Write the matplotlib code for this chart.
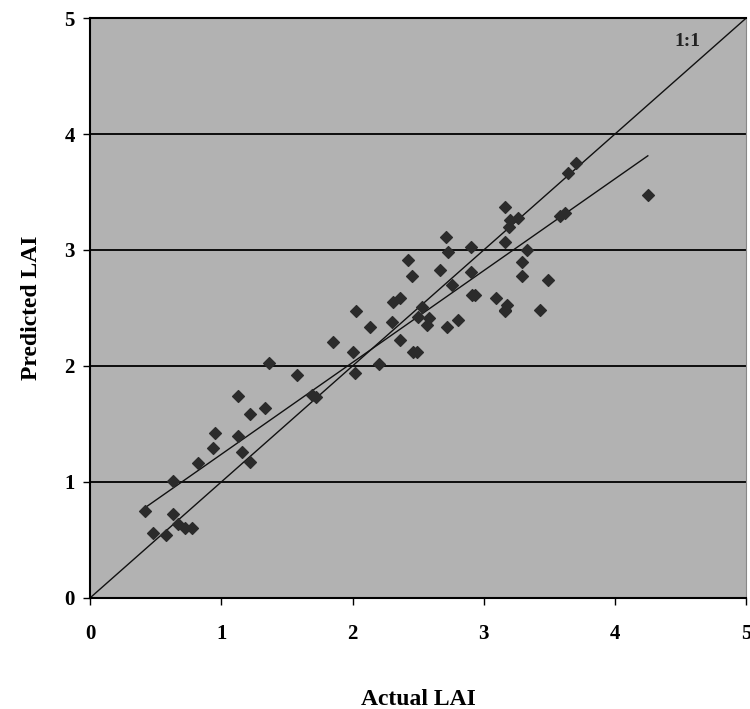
import numpy as np
import matplotlib
matplotlib.use("Agg")
import matplotlib.pyplot as plt

# actual vs predicted LAI
actual = [0.42, 0.48, 0.58, 0.63, 0.67, 0.72, 0.78, 0.63, 0.82, 0.94, 0.95,
          1.13, 1.16, 1.22, 1.22, 1.33, 1.13, 1.58, 1.36, 1.69, 1.72,
          1.85, 2.00, 2.02, 2.20, 2.03, 2.13, 2.30, 2.31, 2.36, 2.36,
          2.46, 2.49, 2.53, 2.50, 2.57, 2.58, 2.72, 2.80, 2.42, 2.45,
          2.67, 2.76, 2.71, 2.73, 2.90, 2.90, 2.91, 2.93, 3.09, 3.16,
          3.16, 3.20, 3.26, 3.19, 3.16, 3.33, 3.29, 3.29, 3.49, 3.18,
          3.16, 3.43, 3.58, 3.62, 3.64, 3.70, 4.25]
predicted = [0.75, 0.56, 0.54, 0.72, 0.64, 0.60, 0.60, 1.01, 1.16, 1.29, 1.42,
             1.40, 1.26, 1.17, 1.59, 1.64, 1.74, 1.92, 2.03, 1.75, 1.73,
             2.21, 2.12, 1.94, 2.02, 2.47, 2.34, 2.38, 2.55, 2.59, 2.22,
             2.12, 2.12, 2.51, 2.42, 2.35, 2.41, 2.34, 2.40, 2.91, 2.78,
             2.83, 2.70, 3.11, 2.98, 3.03, 2.81, 2.61, 2.61, 2.59, 2.48,
             3.37, 3.26, 3.28, 3.20, 3.07, 3.00, 2.90, 2.78, 2.74, 2.53,
             2.47, 2.48, 3.29, 3.32, 3.66, 3.75, 3.47]

ticks = [0, 1, 2, 3, 4, 5]

fig = plt.figure(figsize=(7.5, 7.09), dpi=100)
ax = fig.add_axes([0.12, 0.1566, 0.875, 0.818])
ax.set_facecolor("#b2b2b2")

serif = "Liberation Serif"

# horizontal gridlines
for t in ticks[1:-1]:
    ax.axhline(t, color="black", lw=1.3, zorder=1)

# 1:1 line
ax.plot([0, 5], [0, 5], color="#111111", lw=1.0, zorder=2)

# least-squares fit over the data range
x = np.array(actual)
y = np.array(predicted)
m, b = np.polyfit(x, y, 1)
xf = np.array([x.min(), x.max()])
ax.plot(xf, m * xf + b, color="#111111", lw=1.0, zorder=2)

ax.scatter(x, y, marker="D", s=36, color="#2b2b2b", edgecolors="#2b2b2b",
           zorder=3)

ax.text(4.55, 4.8, "1:1", fontsize=14, fontweight="bold", family=serif,
        ha="center", va="center", color="#222222")

ax.set_xlim(0, 5)
ax.set_ylim(0, 5)
ax.set_xticks(ticks)
ax.set_yticks(ticks)
ax.set_xticklabels([str(t) for t in ticks], family=serif, fontsize=15,
                   fontweight="bold")
ax.set_yticklabels([str(t) for t in ticks], family=serif, fontsize=15,
                   fontweight="bold")
ax.tick_params(axis="x", direction="out", length=5, width=1, pad=14)
ax.tick_params(axis="y", direction="out", length=5, width=1, pad=6)

for side in ["left", "bottom", "top"]:
    ax.spines[side].set_linewidth(1.5)
ax.spines["right"].set_color("#888888")

ax.set_xlabel("Actual LAI", family=serif, fontsize=17, fontweight="bold",
              labelpad=32)
ax.set_ylabel("Predicted LAI", family=serif, fontsize=17, fontweight="bold",
              labelpad=16)

fig.savefig("out.png", dpi=100)
